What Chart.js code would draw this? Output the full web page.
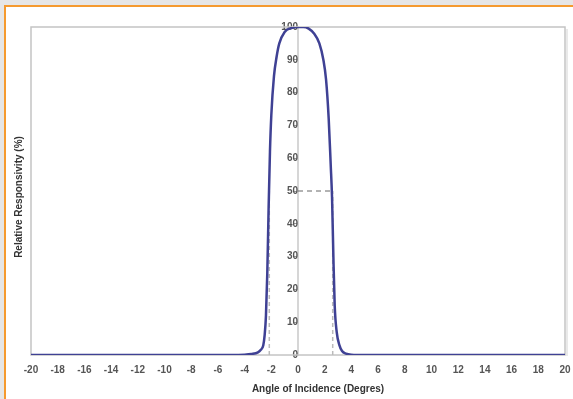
<!DOCTYPE html>
<html lang="en">
<head>
    <meta charset="UTF-8">
    <title>Relative Responsivity vs Angle of Incidence</title>
    <script src="https://cdn.jsdelivr.net/npm/chart.js@4.4.0/dist/chart.umd.min.js"></script>
    <style>
        body { margin: 0; background: #e6e6e6; width: 573px; height: 399px; overflow: hidden; position: relative; }
        .panel { position: absolute; left: 4px; top: 5px; width: 569px; height: 400px;
                 background: #fff; border-top: 2px solid #f59a2f; border-left: 2px solid #f59a2f; }
        #chart { position: absolute; left: 0; top: 0; }
    </style>
</head>
<body>
    <div class="panel"></div>
    <canvas id="chart" width="573" height="399"></canvas>
    <script>

// angle (degrees) and relative responsivity (%)
const angles = [-20, -10, -5, -4, -3.5, -3.0, -2.8, -2.6, -2.5, -2.4, -2.3, -2.2, -2.1, -2.0, -1.8, -1.6, -1.4,
                -1.0, -0.5, 0, 0.4, 0.8, 1.2, 1.6, 1.9, 2.1, 2.3, 2.45, 2.55, 2.65, 2.75, 2.9, 3.1, 3.3, 3.6, 4.0, 5, 10, 20];
const responsivity = [0, 0, 0, 0.1, 0.3, 0.8, 1.5, 3, 6, 12, 25, 45, 62, 73, 85, 91, 95,
                      98.5, 99.7, 100, 100, 99.5, 98, 95, 90, 84, 72, 58, 48, 30, 15, 7, 3, 1.2, 0.4, 0.1, 0, 0, 0];

// half-power markers
const halfLevel = 50;
const halfAngles = [-2.15, 2.6];

const xTitle = 'Angle of Incidence (Degres)';
const yTitle = 'Relative Responsivity (%)';

const tickFont = { family: 'Liberation Sans', size: 10, weight: 'bold' };

// plot frame + axis titles
const framePlugin = {
    id: 'frame',
    beforeDatasetsDraw(chart) {
        const a = chart.chartArea, ctx = chart.ctx;
        ctx.save();
        ctx.strokeStyle = '#c4c4c4';
        ctx.lineWidth = 1.5;
        ctx.strokeRect(a.left, a.top, a.right - a.left, a.bottom - a.top);
        ctx.strokeStyle = '#e2e2e2';
        ctx.lineWidth = 1.5;
        ctx.beginPath();
        ctx.moveTo(a.right + 2, a.top + 2);
        ctx.lineTo(a.right + 2, a.bottom + 1);
        ctx.stroke();
        ctx.restore();
    },
    afterDraw(chart) {
        const a = chart.chartArea, ctx = chart.ctx;
        ctx.save();
        ctx.fillStyle = '#333';
        ctx.font = 'bold 10px "Liberation Sans"';
        ctx.textAlign = 'center';
        ctx.textBaseline = 'middle';
        ctx.fillText(xTitle, 318, 389);
        ctx.translate(19, (a.top + a.bottom) / 2 + 6);
        ctx.rotate(-Math.PI / 2);
        ctx.fillText(yTitle, 0, 0);
        ctx.restore();
    }
};

window.addEventListener('load', setup);

function setup() {
    const ctx = document.getElementById('chart').getContext('2d');

    const curve = angles.map((x, i) => ({ x: x, y: responsivity[i] }));

    const datasets = [{
        label: 'Responsivity',
        data: curve,
        borderColor: '#3f4194',
        borderWidth: 2.5,
        pointRadius: 0,
        cubicInterpolationMode: 'monotone',
        fill: false,
        order: 0
    }, {
        label: 'half level',
        data: [{ x: 0, y: halfLevel }, { x: halfAngles[1], y: halfLevel }],
        borderColor: '#666',
        borderWidth: 1,
        borderDash: [5, 4],
        pointRadius: 0,
        order: 1
    }];
    halfAngles.forEach(h => {
        datasets.push({
            label: 'half angle',
            data: [{ x: h, y: 0 }, { x: h, y: halfLevel }],
            borderColor: '#bbbbbb',
            borderWidth: 1.5,
            borderDash: [4, 3],
            pointRadius: 0,
            order: 2
        });
    });

    new Chart(ctx, {
        type: 'line',
        data: { datasets: datasets },
        options: {
            responsive: false,
            animation: false,
            layout: { padding: { left: 31, top: 27, right: 8, bottom: 22 } },
            plugins: { legend: { display: false }, tooltip: { enabled: false } },
            scales: {
                x: {
                    type: 'linear',
                    min: -20, max: 20,
                    grid: { display: false },
                    border: { display: false },
                    ticks: { stepSize: 2, padding: 1, color: '#555', font: tickFont, maxRotation: 0, autoSkip: false }
                },
                y: {
                    position: { x: 0 },
                    min: 0, max: 100,
                    grid: { drawOnChartArea: false, drawTicks: true, tickLength: 4, color: '#999' },
                    border: { display: true, color: '#d6d6d6', width: 2 },
                    ticks: { stepSize: 10, padding: 3, color: '#555', font: tickFont, autoSkip: false }
                }
            }
        },
        plugins: [framePlugin]
    });
}
    </script>
</body>
</html>
